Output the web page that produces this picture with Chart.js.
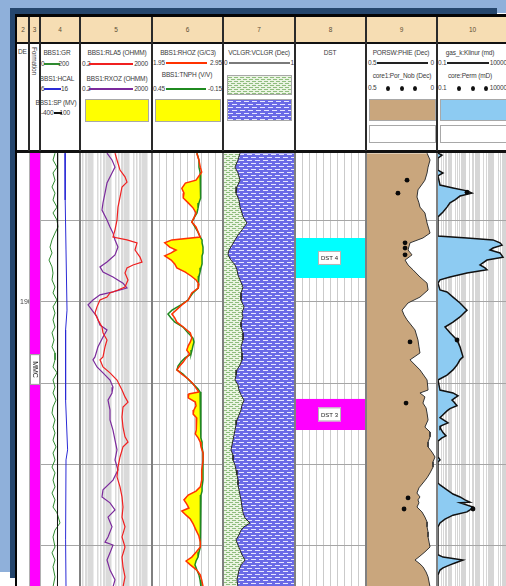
<!DOCTYPE html>
<html>
<head>
<meta charset="utf-8">
<title>BBS1 well log</title>
<script src="https://cdn.jsdelivr.net/npm/chart.js"></script>
<style>
  html, body { margin: 0; padding: 0; background: #ffffff; overflow: hidden; }
  #page { position: relative; width: 506px; height: 586px; overflow: hidden;
          font-family: 'Liberation Sans', Arial, sans-serif; color: #3a3a3a; }
  #page div { position: absolute; box-sizing: border-box; }
  #page .t { font-size: 6.5px; line-height: 8px; white-space: nowrap; letter-spacing: -0.15px; }
  #page canvas { position: absolute; top: 153px; }
  #page .sep { z-index: 3; }
</style>
</head>
<body>
<div id="page"></div>
<script>
// ===== Depth frame (m) =====
const DEPTH_TOP = 1854.15;
const DEPTH_BASE = 1987.4;
const depthGrid = [1875, 1900, 1925, 1950, 1975];
const depthLabelValues = [1900];

// ===== Track 3: formations =====
const formationNames = ['MMC'];
const formationTops = [1854.15];
const formationBases = [1987.4];

// ===== Track 4: GR (API), HCAL (in), SP (mV) =====
const grDepth = [1854.2,1856.3,1858.5,1860.3,1862.5,1864.6,1866.5,1868.6,1870.8,1872.6,1874.8,1876.9,1878.8,1880.9,1883.1,1884.9,1887.1,1889.2,1891.1,1893.2,1895.4,1897.2,1899.4,1901.5,1903.4,1905.5,1907.7,1909.5,1911.7,1913.8,1915.7,1917.8,1920.0,1921.8,1924.0,1926.2,1928.0,1930.2,1932.3,1934.2,1936.3,1938.5,1940.3,1942.5,1944.6,1946.5,1948.6,1950.8,1952.6,1954.8,1956.9,1958.8,1960.9,1963.1,1964.9,1968.0,1970.2,1972.3,1975.4,1977.2,1979.4,1981.5,1984.6,1987.7];
const grValues = [75,65,85,65,75,60,75,65,85,65,85,90,75,60,50,60,45,60,65,60,75,65,85,65,75,65,75,60,70,60,75,75,65,85,65,75,65,80,65,60,75,65,75,65,80,65,75,60,75,65,75,60,75,65,85,100,75,65,75,60,75,65,75,65];
const hcalDepth = [1854.2,1868.6,1884.0,1902.5,1908.6,1930.2,1945.5,1948.6,1973.2,1987.7];
const hcalValues = [12.25,12.3,12.5,12.75,12.4,12.4,12.9,12.5,12.4,12.5];
const spDepth = [1854.2,1900.0,1945.0,1987.7];
const spValues = [-178,-181,-183,-180];

// ===== Track 5: resistivity (ohm.m) =====
const rlaDepth = [1854.2,1856.3,1859.4,1861.5,1863.1,1864.6,1867.7,1870.8,1874.8,1877.8,1880.0,1880.9,1881.8,1884.0,1886.2,1887.7,1888.6,1889.5,1891.1,1893.2,1895.4,1896.3,1897.2,1898.5,1899.4,1901.5,1903.4,1905.5,1907.7,1909.5,1911.7,1913.8,1916.9,1917.8,1920.0,1921.8,1924.0,1927.1,1929.2,1930.8,1932.3,1935.4,1938.5,1941.5,1943.1,1944.6,1947.7,1950.8,1953.8,1956.9,1960.0,1963.1,1966.2,1969.2,1972.3,1975.4,1978.5,1981.5,1984.6,1987.7];
const rlaValues = [17.6,22.7,33.4,63.2,81.7,43.1,33.4,25.8,22.7,17.6,13.6,81.7,294,227,431,557,176,81.7,63.2,92.8,63.2,25.8,9.28,6.32,2.58,1.76,1.36,2.0,3.33,3.79,6.32,4.90,3.79,2.58,3.79,9.28,22.7,43.1,63.2,92.8,49.0,43.1,49.0,63.2,92.8,49.0,33.4,25.8,22.7,33.4,43.1,49.0,43.1,63.2,43.1,63.2,43.1,49.0,63.2,49.0];
const rxoDepth = [1854.2,1856.3,1858.5,1860.3,1863.4,1866.5,1869.5,1871.7,1874.8,1876.9,1878.8,1880.9,1883.1,1885.5,1887.7,1889.2,1890.8,1892.3,1894.2,1895.7,1896.9,1897.8,1899.4,1900.9,1902.5,1904.6,1907.1,1908.6,1910.8,1913.8,1916.9,1917.8,1920.0,1921.8,1924.0,1926.2,1928.0,1930.2,1933.2,1936.3,1939.4,1942.5,1945.5,1948.6,1951.7,1954.8,1957.8,1960.0,1961.8,1964.0,1966.2,1969.2,1972.3,1973.9,1974.8,1977.2,1979.4,1982.5,1985.5,1987.7];
const rxoValues = [6.32,12.0,17.6,12.0,6.32,4.90,3.79,3.33,6.32,9.28,13.6,17.6,25.8,17.6,6.32,2.58,3.79,13.6,49.0,81.7,13.6,2.58,1.05,0.56,0.93,1.76,2.58,6.32,3.79,2.0,1.36,1.05,1.76,3.79,9.28,13.6,12.0,7.19,9.28,9.28,13.6,17.6,22.7,17.6,25.8,13.6,3.79,3.33,9.28,17.6,7.19,12.0,7.19,4.90,13.6,9.28,6.32,9.28,17.6,13.6];

// ===== Track 6: density (g/cc) and neutron (v/v) =====
const dnDepth = [1854.2,1856.3,1858.5,1860.0,1862.5,1863.4,1865.0,1866.5,1868.0,1869.5,1871.1,1872.6,1874.1,1875.4,1876.9,1878.5,1880.0,1880.9,1881.8,1883.1,1884.0,1884.9,1885.8,1887.1,1888.3,1889.5,1890.8,1892.0,1893.2,1894.5,1895.7,1897.2,1899.4,1900.9,1902.5,1903.7,1904.9,1906.2,1907.7,1909.5,1911.1,1912.3,1913.5,1914.8,1916.0,1917.2,1918.5,1919.7,1920.9,1922.2,1923.7,1925.2,1926.8,1927.7,1928.3,1929.5,1930.8,1932.0,1933.2,1934.5,1935.7,1936.9,1938.2,1939.4,1940.6,1941.8,1943.1,1944.6,1946.5,1948.6,1951.7,1954.8,1956.9,1958.2,1959.4,1960.9,1962.2,1963.4,1964.3,1965.6,1966.8,1968.3,1970.2,1972.0,1973.9,1975.4,1977.0,1978.5,1979.7,1980.9,1982.5,1984.0,1985.5,1987.7];
const rhozValues = [2.58,2.61,2.63,2.65,2.57,2.42,2.37,2.40,2.39,2.46,2.53,2.57,2.54,2.51,2.57,2.60,2.63,2.23,2.13,2.20,2.29,2.22,2.13,2.22,2.27,2.30,2.42,2.50,2.57,2.61,2.60,2.51,2.46,2.37,2.29,2.23,2.27,2.30,2.39,2.49,2.51,2.49,2.46,2.44,2.48,2.43,2.39,2.34,2.30,2.37,2.46,2.53,2.58,2.61,2.47,2.46,2.56,2.57,2.54,2.53,2.58,2.57,2.58,2.57,2.56,2.60,2.63,2.64,2.67,2.67,2.65,2.65,2.63,2.57,2.46,2.40,2.44,2.47,2.37,2.43,2.49,2.53,2.57,2.61,2.63,2.63,2.57,2.51,2.43,2.49,2.58,2.63,2.65,2.67];
const tnphValues = [0.070,0.053,0.053,0.044,0.036,0.036,0.036,0.044,0.044,0.053,0.061,0.070,0.095,0.112,0.087,0.061,0.044,0.027,0.027,0.019,0.019,0.019,0.027,0.027,0.027,0.036,0.044,0.053,0.061,0.053,0.061,0.104,0.146,0.205,0.281,0.315,0.289,0.256,0.188,0.146,0.104,0.095,0.104,0.112,0.120,0.171,0.205,0.230,0.239,0.188,0.146,0.104,0.061,0.044,0.044,0.044,0.036,0.036,0.036,0.036,0.036,0.036,0.036,0.036,0.036,0.036,0.027,0.027,0.019,0.019,0.019,0.019,0.027,0.027,0.036,0.036,0.036,0.044,0.044,0.044,0.044,0.044,0.044,0.036,0.036,0.044,0.053,0.061,0.078,0.087,0.070,0.053,0.044,0.036];
const rhozGrid = [2.05,2.15,2.25,2.35,2.45,2.55,2.65,2.75,2.85];

// ===== Track 7: shale volume (dec) =====
const vclDepth = [1854.2,1856.3,1858.5,1860.3,1862.5,1864.6,1866.5,1868.6,1870.8,1872.6,1873.8,1875.7,1876.9,1877.8,1879.4,1880.9,1882.5,1884.0,1885.5,1887.1,1888.6,1890.1,1891.7,1893.2,1895.4,1897.2,1899.4,1901.5,1903.4,1904.6,1906.2,1907.7,1909.5,1911.7,1913.8,1915.7,1917.8,1919.4,1920.9,1922.5,1924.0,1925.5,1927.1,1928.6,1930.2,1931.7,1933.2,1934.8,1936.3,1937.8,1939.4,1940.9,1942.5,1944.0,1945.5,1947.1,1948.6,1950.2,1951.7,1953.2,1954.8,1956.3,1957.8,1959.4,1960.9,1963.1,1964.9,1966.5,1968.0,1969.2,1970.2,1971.7,1973.2,1974.8,1976.3,1977.8,1979.4,1980.9,1982.5,1984.0,1985.5,1987.7];
const vclValues = [0.236,0.208,0.167,0.208,0.236,0.194,0.181,0.222,0.236,0.264,0.278,0.333,0.292,0.264,0.208,0.167,0.125,0.083,0.069,0.111,0.167,0.194,0.208,0.236,0.278,0.250,0.250,0.292,0.264,0.278,0.250,0.250,0.278,0.278,0.250,0.264,0.264,0.236,0.194,0.181,0.167,0.208,0.222,0.250,0.292,0.264,0.250,0.222,0.194,0.181,0.167,0.153,0.139,0.125,0.111,0.139,0.139,0.167,0.181,0.194,0.208,0.208,0.222,0.236,0.250,0.264,0.278,0.306,0.375,0.292,0.250,0.222,0.181,0.208,0.236,0.264,0.306,0.250,0.222,0.208,0.194,0.208];

// ===== Track 8: drill stem tests =====
const dstNames = ['DST 4', 'DST 3'];
const dstTops = [1880.3, 1929.8];
const dstBases = [1892.6, 1939.4];
const dstGrid = [1,2,3,4,5,6,7,8,9];

// ===== Track 9: effective porosity (dec) and core porosity =====
const phieDepth = [1854.2,1856.3,1858.5,1860.3,1862.5,1863.4,1865.5,1867.7,1869.5,1870.8,1872.6,1875.7,1878.8,1880.3,1881.8,1884.0,1885.5,1887.1,1888.6,1890.1,1892.3,1894.2,1896.3,1898.5,1900.3,1902.5,1904.0,1905.5,1908.6,1911.7,1913.8,1915.7,1917.8,1920.9,1924.0,1927.1,1928.0,1929.2,1931.1,1932.6,1934.2,1936.3,1938.5,1940.0,1941.5,1943.1,1944.6,1946.2,1947.7,1949.2,1950.8,1952.6,1954.1,1955.7,1957.2,1958.8,1960.0,1960.9,1961.8,1963.1,1964.6,1966.2,1967.7,1969.2,1970.8,1972.3,1973.9,1975.4,1976.9,1978.2,1979.4,1980.6,1981.5,1983.1,1984.6,1987.7];
const phieValues = [0.070,0.049,0.063,0.070,0.085,0.099,0.134,0.141,0.127,0.120,0.085,0.070,0.049,0.099,0.190,0.204,0.176,0.225,0.204,0.169,0.120,0.070,0.063,0.120,0.204,0.246,0.232,0.211,0.155,0.134,0.127,0.120,0.190,0.120,0.070,0.063,0.120,0.085,0.099,0.077,0.070,0.063,0.085,0.049,0.049,0.063,0.063,0.035,0.014,0.028,0.028,0.049,0.070,0.099,0.127,0.141,0.120,0.134,0.127,0.141,0.106,0.085,0.070,0.070,0.063,0.063,0.056,0.049,0.085,0.120,0.155,0.120,0.099,0.077,0.063,0.049];
const corePorDepth = [1862.5,1866.5,1881.8,1883.4,1885.5,1912.3,1931.1,1960.3,1963.7];
const corePorValues = [0.211,0.275,0.225,0.225,0.225,0.190,0.218,0.204,0.232];

// ===== Track 10: permeability (mD) and core permeability =====
const permDepth = [1854.2,1854.8,1855.7,1859.4,1860.3,1861.2,1864.0,1864.9,1865.8,1866.5,1867.4,1868.6,1869.5,1870.8,1872.3,1873.8,1879.7,1880.3,1880.9,1881.8,1882.5,1883.4,1884.0,1884.9,1886.2,1887.1,1888.6,1889.5,1890.1,1891.1,1892.3,1893.2,1894.2,1896.3,1896.9,1898.5,1900.3,1902.5,1903.7,1904.6,1906.2,1907.7,1909.5,1911.7,1913.8,1916.9,1917.8,1919.4,1920.9,1922.5,1924.0,1927.1,1928.0,1928.9,1929.5,1930.2,1930.8,1931.9,1932.8,1933.5,1934.7,1935.6,1936.6,1937.2,1938.1,1938.7,1940.2,1941.2,1941.8,1942.8,1947.7,1948.6,1949.2,1955.7,1956.3,1957.8,1959.1,1960.0,1960.9,1961.6,1961.8,1963.1,1964.0,1964.6,1965.6,1966.8,1968.0,1969.2,1977.8,1978.5,1979.4,1980.3,1980.9,1981.8,1982.5,1984.0,1987.7];
const permValues = [0.117,0.225,0.117,0.117,0.265,0.117,0.163,1.34,13.0,29.2,4.17,1.85,0.823,0.506,0.265,0.117,0.117,13.0,879,2730,3780,879,540,2730,4440,332,107,240,332,13.0,0.823,0.163,0.117,0.163,0.506,1.34,4.17,13.0,6.78,4.17,1.34,0.366,0.823,2.56,4.17,6.78,4.17,2.56,1.34,0.506,0.117,0.163,1.34,3.01,1.85,1.14,1.57,2.56,0.823,0.506,0.265,0.163,0.366,0.595,0.191,0.163,0.265,0.43,0.225,0.117,0.117,0.163,0.117,0.117,0.163,0.506,1.34,4.17,9.37,21.1,4.17,34.3,21.1,13.0,1.34,0.366,0.163,0.117,0.117,0.265,6.78,1.85,0.823,0.265,0.163,0.117,0.117];
const corePermDepth = [1866.2,1911.7,1963.7];
const corePermValues = [13.0,2.56,34.3];

// ===== Column layout (header numbers and track edges) =====
const colEdges = [17, 29, 40, 80, 152, 223, 295, 366, 437, 508];
const colNumbers = ['2','3','4','5','6','7','8','9','10'];

const FONT = '"Liberation Sans", Arial, sans-serif';
const page = document.getElementById('page');

function div(x, y, w, h, css, cls) {
  const d = document.createElement('div');
  if (cls) d.className = cls;
  Object.assign(d.style, { left: x + 'px', top: y + 'px', width: w + 'px', height: h + 'px' }, css || {});
  page.appendChild(d);
  return d;
}
function txt(str, x, y, align, css) {
  const d = document.createElement('div');
  d.className = 't';
  d.textContent = str;
  const s = d.style;
  if (align === 'c') { s.left = (x - 60) + 'px'; s.width = '120px'; s.textAlign = 'center'; }
  else if (align === 'r') { s.left = (x - 120) + 'px'; s.width = '120px'; s.textAlign = 'right'; }
  else { s.left = x + 'px'; }
  s.top = (y - 4) + 'px';
  Object.assign(s, css || {});
  page.appendChild(d);
  return d;
}

// ---- fill patterns: sand (dashed green) and shale (blue brick) ----
function makeTile(w, h, draw) {
  const c = document.createElement('canvas');
  c.width = w; c.height = h;
  draw(c.getContext('2d'));
  return c;
}
const sandTile = makeTile(6, 4, g => {
  g.fillStyle = '#eaf4e2'; g.fillRect(0, 0, 6, 4);
  g.fillStyle = '#8fbd7e'; g.fillRect(0, 1, 4, 1); g.fillRect(3, 3, 3, 1); g.fillRect(0, 3, 1, 1);
});
const brickTile = makeTile(8, 6, g => {
  g.fillStyle = '#6a6ae6'; g.fillRect(0, 0, 8, 6);
  g.fillStyle = '#e6e6ff'; g.fillRect(0, 1, 5, 1); g.fillRect(4, 4, 4, 1); g.fillRect(0, 4, 1, 1);
});
const patCtx = document.createElement('canvas').getContext('2d');
const sandPattern = patCtx.createPattern(sandTile, 'repeat');
const brickPattern = patCtx.createPattern(brickTile, 'repeat');

// ---- outer frame ----
div(0, 0, 506, 8, { background: '#8fb0da' });
div(0, 0, 10, 572, { background: '#8fb0da' });
div(497, 0, 9, 13, { background: '#8fb0da' });
div(10, 8, 487, 6, { background: '#25466d' });
div(10, 8, 5, 570, { background: '#25466d' });
div(15, 14, 491, 3, { background: '#050505' });
div(15, 14, 2, 572, { background: '#050505' });

// ---- header band ----
div(17, 17, 489, 25, { background: '#f6ddb3' });
div(17, 42, 489, 2, { background: '#111' });
div(17, 150, 489, 3, { background: '#111' });
colNumbers.forEach((n, i) => txt(n, (colEdges[i] + colEdges[i + 1]) / 2, 30, 'c', { color: '#5b4d35' }));
colEdges.slice(1, -1).forEach(x => div(x - 0.75, 17, 1.5, 134, { background: '#2a2a2a' }));

function scaleLine(y, left, right, lx, l0, l1, rx, color) {
  txt(left, lx, y, 'l');
  txt(right, rx, y, 'r');
  div(l0, y - 1, l1 - l0, 2, { background: color });
}
function dotLine(y, left, right, lx, rx, dots) {
  txt(left, lx, y, 'l');
  txt(right, rx, y, 'r');
  dots.forEach(x => div(x - 2, y - 2.5, 4, 5, { background: '#111', borderRadius: '50%' }));
}
function swatch(x, y, w, h, css) {
  return div(x, y, w, h, Object.assign({ border: '1px solid #a8a8a8' }, css));
}

// column 2: depth
txt('DE', 18, 52, 'l');
// column 3: formation
const fm = txt('Formation', 38, 47, 'l');
fm.style.top = '47px';
fm.style.transformOrigin = '0 0';
fm.style.transform = 'rotate(90deg)';
// column 4
txt('BBS1:GR', 57, 53, 'c');
scaleLine(64, '0', '200', 41, 44, 60, 69, '#2f8a2f');
txt('BBS1:HCAL', 57, 79, 'c');
scaleLine(89, '6', '16', 41, 44, 61, 68, '#2b2bd6');
txt('BBS1:SP (MV)', 56, 103, 'c');
scaleLine(113, '-400', '100', 41, 54, 62, 70, '#111');
// column 5
txt('BBS1:RLA5 (OHMM)', 117, 53, 'c');
scaleLine(64, '0.2', '2000', 82, 89, 133, 148, '#f02020');
txt('BBS1:RXOZ (OHMM)', 117, 79, 'c');
scaleLine(89, '0.2', '2000', 82, 89, 133, 148, '#7b2a9c');
swatch(85, 99, 64, 23, { background: '#ffff00' });
// column 6
txt('BBS1:RHOZ (G/C3)', 188, 53, 'c');
scaleLine(63, '1.95', '2.95', 153, 166, 207, 222, '#ff3300');
txt('BBS1:TNPH (V/V)', 187, 75, 'c');
scaleLine(89, '0.45', '-0.15', 153, 166, 206, 222, '#1f8a1f');
swatch(155, 99, 66, 23, { background: '#ffff00' });
// column 7
txt('VCLGR:VCLGR (Dec)', 259, 53, 'c');
scaleLine(63, '0', '1', 224, 229, 290, 294, '#7a7a7a');
swatch(227, 75, 65, 20, { backgroundImage: 'url(' + sandTile.toDataURL() + ')' });
swatch(227, 99, 65, 22, { backgroundImage: 'url(' + brickTile.toDataURL() + ')' });
// column 8
txt('DST', 330, 53, 'c');
// column 9
txt('PORSW:PHIE (Dec)', 401, 53, 'c');
scaleLine(63, '0.5', '0', 368, 377, 428, 434, '#222');
txt('core1:Por_Nob (Dec)', 402, 76, 'c');
dotLine(88, '0.5', '0', 368, 434, [388, 402, 415]);
swatch(369, 99, 67, 22, { background: '#c9a67d' });
swatch(369, 125, 67, 18, { background: '#ffffff' });
// column 10
txt('gas_k:Klinur (md)', 470, 53, 'c');
scaleLine(63, '0.1', '10000', 438, 447, 489, 507, '#222');
txt('core:Perm (mD)', 470, 76, 'c');
dotLine(88, '0.1', '10000', 438, 507, [459, 473, 486]);
swatch(440, 99, 70, 22, { background: '#8dcbf2' });
swatch(440, 125, 70, 18, { background: '#ffffff' });

// ---- Chart.js track helpers ----
function depthScale(showGrid) {
  return {
    type: 'linear', position: 'left', reverse: true, min: DEPTH_TOP, max: DEPTH_BASE,
    afterBuildTicks: s => { s.ticks = depthGrid.map(v => ({ value: v })); },
    afterFit: s => { s.width = 0; },
    ticks: { display: false }, border: { display: false },
    grid: { display: showGrid, color: '#a6a6a6', lineWidth: 1, drawTicks: false }
  };
}
function valueScale(type, min, max, gridValues, extra) {
  const o = extra || {};
  return {
    type, min, max, position: 'bottom', reverse: !!o.reverse,
    afterBuildTicks: s => { s.ticks = (gridValues || []).map(v => ({ value: v })); },
    afterFit: s => { s.height = 0; },
    ticks: { display: false }, border: { display: false },
    grid: { display: !!gridValues, color: o.color || '#cdcdcd', lineWidth: o.width || 1, drawTicks: false }
  };
}
const pts = (depths, values) => depths.map((d, i) => ({ x: values[i], y: d }));
function curve(depths, values, color, width, axis, extra) {
  return Object.assign({ data: pts(depths, values), xAxisID: axis, borderColor: color, borderWidth: width,
                         fill: false, pointRadius: 0 }, extra || {});
}
function dots(depths, values, axis) {
  return { data: pts(depths, values), xAxisID: axis, showLine: false, fill: false,
           pointRadius: 2.4, pointBackgroundColor: '#0a0a0a', pointBorderWidth: 0 };
}
function makeTrack(left, width, scales, datasets, plugins) {
  const c = document.createElement('canvas');
  c.width = width; c.height = 433;
  c.style.left = left + 'px';
  page.appendChild(c);
  return new Chart(c, {
    type: 'line',
    data: { datasets },
    options: {
      responsive: false, animation: false, devicePixelRatio: 1, indexAxis: 'y', events: [],
      layout: { padding: 0, autoPadding: false },
      plugins: { legend: { display: false }, tooltip: { enabled: false } },
      elements: { point: { radius: 0, hoverRadius: 0 }, line: { tension: 0 } },
      scales
    },
    plugins: plugins || []
  });
}

// depth numbers
const depthLabelPlugin = {
  id: 'depthLabels',
  afterDraw(chart) {
    const { ctx, scales: { y } } = chart;
    ctx.save();
    ctx.font = '7px ' + FONT;
    ctx.fillStyle = '#444'; ctx.textAlign = 'left'; ctx.textBaseline = 'middle';
    depthLabelValues.forEach(v => ctx.fillText(String(v), 3, y.getPixelForValue(v)));
    ctx.restore();
  }
};
// formation name box, rotated text
const formationLabelPlugin = {
  id: 'formationLabels',
  afterDatasetsDraw(chart) {
    const { ctx, chartArea: a, scales: { y } } = chart;
    formationNames.forEach((name, i) => {
      ctx.save();
      ctx.font = '7px ' + FONT;
      const top = Math.max(y.getPixelForValue(formationTops[i]), a.top);
      const bot = Math.min(y.getPixelForValue(formationBases[i]), a.bottom);
      const cy = (top + bot) / 2, cx = (a.left + a.right) / 2;
      const h = ctx.measureText(name).width + 14;
      ctx.fillStyle = '#ffffff';
      ctx.fillRect(a.left, cy - h / 2, a.right - a.left, h);
      ctx.strokeStyle = '#9a9a9a'; ctx.lineWidth = 1;
      ctx.strokeRect(a.left + 0.5, cy - h / 2 + 0.5, a.right - a.left - 1, h - 1);
      ctx.translate(cx, cy);
      ctx.rotate(Math.PI / 2);
      ctx.fillStyle = '#222'; ctx.textAlign = 'center'; ctx.textBaseline = 'middle';
      ctx.fillText(name, 0, 0);
      ctx.restore();
    });
  }
};
// yellow crossover: density to the left of neutron
const crossoverPlugin = {
  id: 'crossover',
  beforeDatasetsDraw(chart) {
    const den = chart.getDatasetMeta(0).data, neu = chart.getDatasetMeta(1).data;
    const ctx = chart.ctx;
    ctx.save();
    ctx.beginPath();
    den.forEach((p, i) => (i ? ctx.lineTo(p.x, p.y) : ctx.moveTo(p.x, p.y)));
    for (let i = neu.length - 1; i >= 0; i--) ctx.lineTo(Math.max(den[i].x, neu[i].x), neu[i].y);
    ctx.closePath();
    ctx.fillStyle = '#ffff00';
    ctx.fill();
    ctx.restore();
  }
};
// DST names
const dstLabelPlugin = {
  id: 'dstLabels',
  afterDatasetsDraw(chart) {
    const { ctx, chartArea: a, scales: { y } } = chart;
    ctx.save();
    ctx.font = '6px ' + FONT;
    ctx.textAlign = 'center'; ctx.textBaseline = 'middle';
    dstNames.forEach((name, i) => {
      const cy = (y.getPixelForValue(dstTops[i]) + y.getPixelForValue(dstBases[i])) / 2;
      const cx = (a.left + a.right) / 2 - 1;
      const w = ctx.measureText(name).width + 6, h = 14;
      ctx.fillStyle = '#ffffff';
      ctx.fillRect(cx - w / 2, cy - h / 2, w, h);
      ctx.strokeStyle = '#b5b5b5'; ctx.lineWidth = 1;
      ctx.strokeRect(cx - w / 2 + 0.5, cy - h / 2 + 0.5, w - 1, h - 1);
      ctx.fillStyle = '#222';
      ctx.fillText(name, cx, cy + 0.5);
    });
    ctx.restore();
  }
};

function logGrid(min, max) {
  const out = [];
  for (let e = -2; e <= 5; e++) for (let m = 1; m <= 9; m++) {
    const v = +(m * Math.pow(10, e)).toPrecision(3);
    if (v > min * 1.0001 && v < max * 0.9999) out.push(v);
  }
  return out;
}

// track 2: depth
makeTrack(17, 12, { x: valueScale('linear', 0, 1, null), y: depthScale(false) }, [], [depthLabelPlugin]);

// track 3: formation
makeTrack(30, 10, { x: valueScale('linear', 0, 1, null), y: depthScale(false) },
  formationNames.map((n, i) => ({
    data: [{ x: 1, y: formationTops[i] }, { x: 1, y: formationBases[i] }], xAxisID: 'x',
    borderWidth: 0, pointRadius: 0, fill: { value: 0 }, backgroundColor: '#ff00ff'
  })), [formationLabelPlugin]);

// track 4: GR / HCAL / SP
makeTrack(40, 40, {
  x: valueScale('linear', 0, 200, null),
  xc: valueScale('linear', 6, 16, null),
  xs: valueScale('linear', -400, 100, null),
  y: depthScale(true)
}, [
  curve(spDepth, spValues, '#151515', 1, 'xs'),
  curve(hcalDepth, hcalValues, '#2b2bd6', 1, 'xc'),
  curve(grDepth, grValues, '#2f8a2f', 1, 'x')
]);

// track 5: resistivity
makeTrack(80, 72, {
  x: valueScale('logarithmic', 0.2, 2000, logGrid(0.2, 2000), { color: '#dadada', width: 1.5 }),
  y: depthScale(true)
}, [
  curve(rlaDepth, rlaValues, '#f02020', 1.2, 'x'),
  curve(rxoDepth, rxoValues, '#7b2a9c', 1.2, 'x')
]);

// track 6: density / neutron
makeTrack(152, 71, {
  xr: valueScale('linear', 1.95, 2.95, rhozGrid, { color: '#cbcbcb' }),
  xn: valueScale('linear', -0.15, 0.45, null, { reverse: true }),
  y: depthScale(true)
}, [
  curve(dnDepth, rhozValues, '#ff3300', 1.5, 'xr'),
  curve(dnDepth, tnphValues, '#1f8a1f', 1.5, 'xn')
], [crossoverPlugin]);

// track 7: VCL with sand / shale patterns
makeTrack(223, 72, { x: valueScale('linear', 0, 1, null), y: depthScale(false) }, [
  curve(vclDepth, vclValues, '#262626', 1, 'x', { fill: { value: 0 }, backgroundColor: sandPattern }),
  curve(vclDepth, vclValues, 'rgba(0,0,0,0)', 0, 'x', { fill: { value: 1 }, backgroundColor: brickPattern })
]);

// track 8: DST intervals
const dstColors = ['#00ffff', '#ff00ff'];
makeTrack(295, 71, { x: valueScale('linear', 0, 10, dstGrid, { color: '#cbcbcb' }), y: depthScale(true) },
  dstNames.map((n, i) => ({
    data: [{ x: 10, y: dstTops[i] }, { x: 10, y: dstBases[i] }], xAxisID: 'x',
    borderWidth: 0, pointRadius: 0, fill: { value: 0 }, backgroundColor: dstColors[i]
  })), [dstLabelPlugin]);

// track 9: PHIE and core porosity
makeTrack(366, 71, { x: valueScale('linear', 0, 0.5, null, { reverse: true }), y: depthScale(true) }, [
  dots(corePorDepth, corePorValues, 'x'),
  curve(phieDepth, phieValues, '#333', 1, 'x', { fill: { value: 0.5 }, backgroundColor: '#c9a67d' })
]);

// track 10: permeability and core permeability
makeTrack(437, 71, {
  x: valueScale('logarithmic', 0.1, 10000, logGrid(0.1, 10000), { color: '#d6d6d6' }),
  y: depthScale(true)
}, [
  dots(corePermDepth, corePermValues, 'x'),
  curve(permDepth, permValues, '#111', 1.5, 'x', { fill: { value: 0.1 }, backgroundColor: '#8dcbf2' })
]);

// track separators in the data area
[29, 40, 80, 152, 223, 295, 366, 437].forEach((x, i) =>
  div(x - (i < 2 ? 0.5 : 1), 153, i < 2 ? 1 : 2, 433, { background: i < 2 ? '#b0b0b0' : '#808080' }, 'sep'));
</script>
</body>
</html>
